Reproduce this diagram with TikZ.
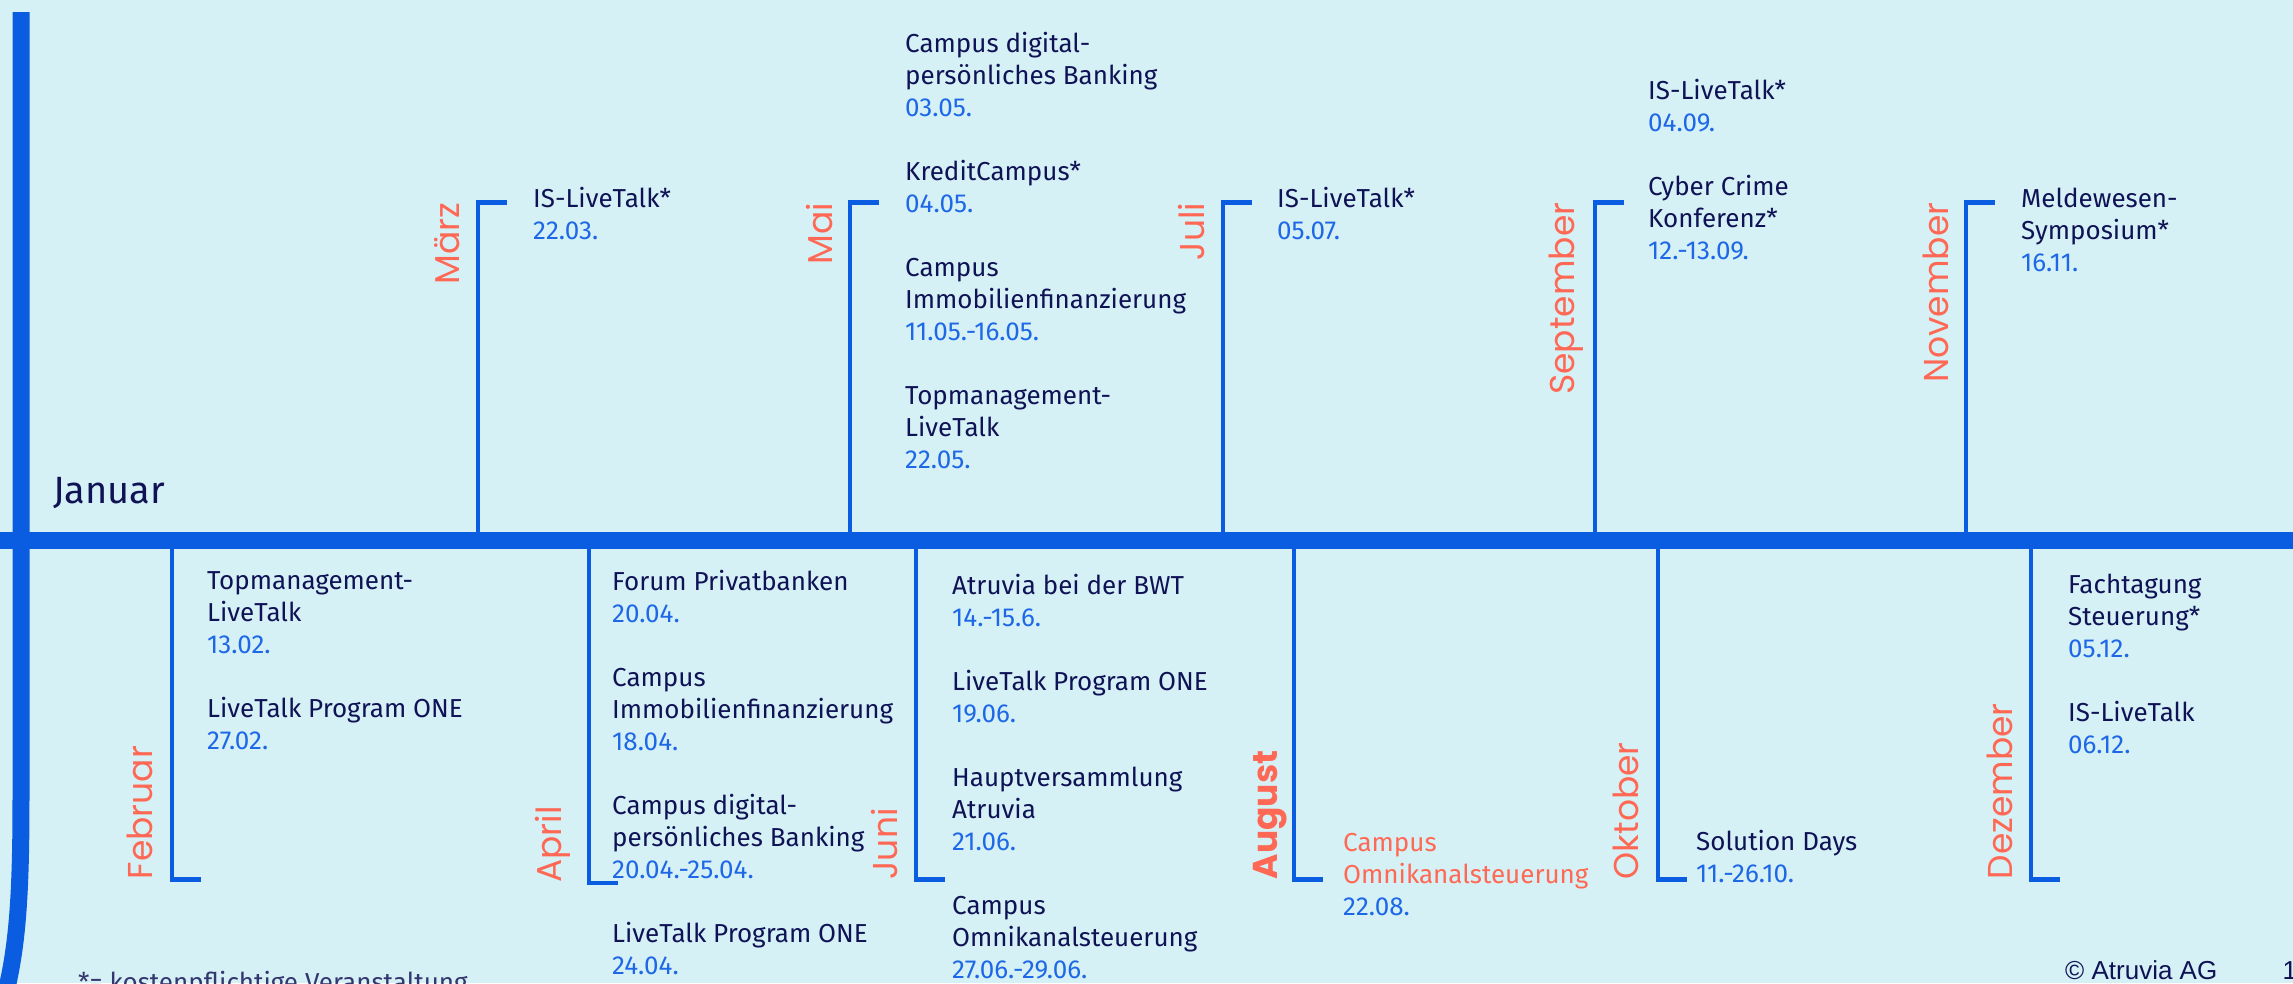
\documentclass[tikz,border=0pt]{standalone}
\usepackage{fontspec}
\setmainfont{Fira Sans}
\newfontfamily\monatfont{Poppins}
\newfontfamily\arialfont{Liberation Sans}
\usepackage{xcolor}
\usepackage{tikz}
\usetikzlibrary{positioning,calc}

\definecolor{hintergrund}{RGB}{213,241,245}
\definecolor{linie}{RGB}{10,92,224}
\definecolor{dunkelblau}{RGB}{16,18,86}
\definecolor{datum}{RGB}{30,104,232}
\definecolor{koralle}{RGB}{255,104,84}

\newcommand{\dat}[1]{\textcolor{datum}{#1}}

\begin{document}
\begin{tikzpicture}[
		x=1pt, y=-1pt,
		achse/.style={draw=linie, line width=17pt},
		strich/.style={draw=linie, line width=4.5pt, line join=miter},
		monat/.style={
			rotate=90, inner sep=0pt, text=koralle,
			font=\monatfont\fontsize{34.5}{40}\selectfont
		},
		% Anker = Grundlinie der letzten Zeile
		termin/.style={
			anchor=base west, inner sep=0pt, align=left, text=dunkelblau,
			font=\fontsize{26}{32}\selectfont
		}
		]
		% Rahmen und Hintergrund
		\useasboundingbox (0,0) rectangle (2293,983);
		\fill[hintergrund] (0,0) rectangle (2293,983);
		\clip (0,0) rectangle (2293,983);
		
		% Zeitachse und Rand
		\coordinate (achseL) at (0,540.5);
		\coordinate (achseR) at (2293,540.5);
		\coordinate (randO) at (21,12);
		\coordinate (randU) at (4,1000);
		\draw[achse] (randO) -- (21,800) .. controls (21,900) and (17,950) .. (randU);
		\draw[achse] (achseL) -- (achseR);
		
		% Monate oberhalb: x / Name / Text / Abstand
		\foreach \x/\n/\m/\d in {478/mar/März/19, 850/mai/Mai/18, 1223/jul/Juli/19,
			1595/sep/September/21, 1966/nov/November/18}{
			\coordinate (t-\n) at (\x,202.5);
			\draw[strich] (t-\n |- achseL) -- (t-\n) -- ++(29,0);
			\node[monat, anchor=base east] (m-\n) at ([xshift=-\d pt]t-\n) {\m};
		}
		
		% Monate unterhalb: x / y / Name / Text / Abstand
		\foreach \x/\y/\n/\m/\d in {172/879.5/feb/Februar/20, 589/883/apr/April/28,
			916/879.5/jun/Juni/19, 1294/879.5/aug/\textbf{August}/17,
			1658/879.5/okt/Oktober/20, 2031/879.5/dez/Dezember/19}{
			\coordinate (b-\n) at (\x,\y);
			\draw[strich] (b-\n |- achseL) -- (b-\n) -- ++(29,0);
			\node[monat, anchor=base west] (m-\n) at ([xshift=-\d pt]b-\n) {\m};
		}
		
		\node[termin, font=\fontsize{38}{40}\selectfont] (jan) at (53,503) {Januar};
		
		% Termine oben
		\node[termin] (e-mar) at (533,239) {IS-LiveTalk*\\\dat{22.03.}};
		\node[termin] (e-mai) at (905,468) {Campus digital-\\persönliches Banking\\\dat{03.05.}\\[32pt]
			KreditCampus*\\\dat{04.05.}\\[32pt]
			Campus\\Immobilienfinanzierung\\\dat{11.05.-16.05.}\\[32pt]
			Topmanagement-\\LiveTalk\\\dat{22.05.}};
		\node[termin] (e-jul) at (1277,239) {IS-LiveTalk*\\\dat{05.07.}};
		\node[termin] (e-sep) at (1648,259) {IS-LiveTalk*\\\dat{04.09.}\\[32pt]
			Cyber Crime\\Konferenz*\\\dat{12.-13.09.}};
		\node[termin] (e-nov) at (2021,271) {Meldewesen-\\Symposium*\\\dat{16.11.}};
		
		% Termine unten
		\node[termin] (e-feb) at (207,749) {Topmanagement-\\LiveTalk\\\dat{13.02.}\\[32pt]
			LiveTalk Program ONE\\\dat{27.02.}};
		\node[termin] (e-apr) at (612,974) {Forum Privatbanken\\\dat{20.04.}\\[32pt]
			Campus\\Immobilienfinanzierung\\\dat{18.04.}\\[32pt]
			Campus digital-\\persönliches Banking\\\dat{20.04.-25.04.}\\[32pt]
			LiveTalk Program ONE\\\dat{24.04.}};
		\node[termin] (e-jun) at (952,978) {Atruvia bei der BWT\\\dat{14.-15.6.}\\[32pt]
			LiveTalk Program ONE\\\dat{19.06.}\\[32pt]
			Hauptversammlung\\Atruvia\\\dat{21.06.}\\[32pt]
			Campus\\Omnikanalsteuerung\\\dat{27.06.-29.06.}};
		\node[termin, text=koralle] (e-aug) at (1343,915) {Campus\\Omnikanalsteuerung\\\dat{22.08.}};
		\node[termin] (e-okt) at (1696,882) {Solution Days\\\dat{11.-26.10.}};
		\node[termin] (e-dez) at (2068,753) {Fachtagung\\Steuerung*\\\dat{05.12.}\\[32pt]
			IS-LiveTalk\\\dat{06.12.}};
		
		% Fusszeile
		\node[termin, text=dunkelblau!85] (fussnote) at (78,991) {*= kostenpflichtige Veranstaltung};
		\node[anchor=base west, inner sep=0pt, text=dunkelblau,
			font=\arialfont\fontsize{26}{30}\selectfont] (copyright) at (2065,979) {© Atruvia AG};
		\node[base right=65pt of copyright, inner sep=0pt, text=dunkelblau,
			font=\arialfont\fontsize{26}{30}\selectfont] (seite) {1};
		
	\end{tikzpicture}
\end{document}
